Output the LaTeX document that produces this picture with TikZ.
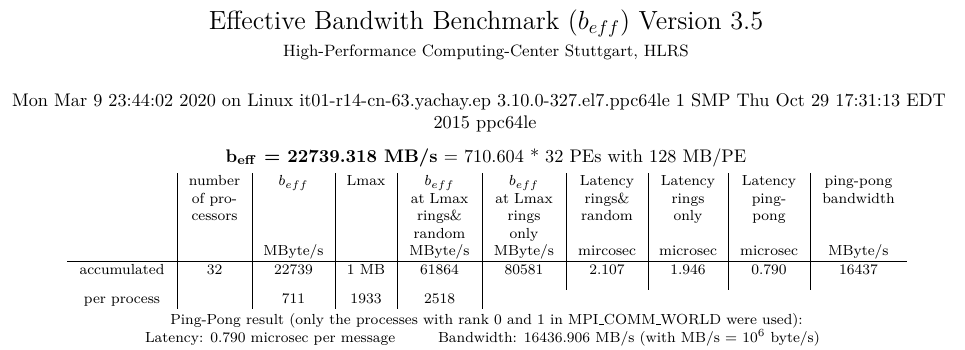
\documentclass[tikz,border=0pt]{standalone}
% underscore drawn as a short rule on the baseline
\newcommand\lowbar{\leavevmode\kern.06em\vbox{\hrule width.3em}}
\begin{document}
\begin{tikzpicture}[x=0.548pt,y=-0.548pt,
  txt/.style={inner sep=0pt,outer sep=0pt,anchor=base},
  cell/.style={txt,font=\footnotesize},
  rule/.style={line width=0.4pt,black}]
\useasboundingbox (0,0) rectangle (965,349);

% ---- heading ----
\node[txt,font=\Large] (title) at (486,29.3) {Effective Bandwith Benchmark ($b_{eff}$) Version 3.5};
\node[txt,font=\small] (inst) at (486,56) {High-Performance Computing-Center Stuttgart, HLRS};
\node[txt] (sys1) at (479,106.7) {Mon Mar 9 23:44:02 2020 on Linux it01-r14-cn-63.yachay.ep 3.10.0-327.el7.ppc64le 1 SMP Thu Oct 29 17:31:13 EDT};
\node[txt] (sys2) at (485,128.6) {2015 ppc64le};
\node[txt] (summary) at (486,162) {\textbf{b$_{\mathbf{eff}}$ = 22739.318 MB/s} = 710.604 * 32 PEs with 128 MB/PE};

% ---- table rules ----
\coordinate (hl) at (67,261.7);
\coordinate (hr) at (907,261.7);
\draw[rule] (hl) -- (hr);
\foreach \x in {177,252,335,397,482}
  \draw[rule] (\x,173) -- (\x,308.7);
\foreach \x in {566,648,728,810}
  \draw[rule] (\x,173) -- (\x,290);

% ---- table header ----
% column 1
\node[cell] (c1a) at (214.5,185.5) {number};
\node[cell] (c1b) at (214.5,203) {of pro-};
\node[cell] (c1c) at (214.5,220.5) {cessors};
% column 2
\node[cell] (c2a) at (293.5,185.5) {$b_{eff}$};
\node[cell] (c2e) at (293.5,255.5) {MByte/s};
% column 3
\node[cell] (c3a) at (366,185.5) {Lmax};
% column 4
\node[cell] (c4a) at (439.5,185.5) {$b_{eff}$};
\node[cell] (c4b) at (439.5,203) {at Lmax};
\node[cell] (c4c) at (439.5,220.5) {rings\&};
\node[cell] (c4d) at (439.5,238) {random};
\node[cell] (c4e) at (439.5,255.5) {MByte/s};
% column 5
\node[cell] (c5a) at (524,185.5) {$b_{eff}$};
\node[cell] (c5b) at (524,203) {at Lmax};
\node[cell] (c5c) at (524,220.5) {rings};
\node[cell] (c5d) at (524,238) {only};
\node[cell] (c5e) at (524,255.5) {MByte/s};
% column 6
\node[cell] (c6a) at (607,185.5) {Latency};
\node[cell] (c6b) at (607,203) {rings\&};
\node[cell] (c6c) at (607,220.5) {random};
\node[cell] (c6e) at (607,255.5) {mircosec};
% column 7
\node[cell] (c7a) at (688,185.5) {Latency};
\node[cell] (c7b) at (688,203) {rings};
\node[cell] (c7c) at (688,220.5) {only};
\node[cell] (c7e) at (688,255.5) {microsec};
% column 8
\node[cell] (c8a) at (769,185.5) {Latency};
\node[cell] (c8b) at (769,203) {ping-};
\node[cell] (c8c) at (769,220.5) {pong};
\node[cell] (c8e) at (769,255.5) {microsec};
% column 9
\node[cell] (c9a) at (858.5,185.5) {ping-pong};
\node[cell] (c9b) at (858.5,203) {bandwidth};
\node[cell] (c9e) at (858.5,255.5) {MByte/s};

% ---- table body ----
\node[cell] (acc) at (122,274.5) {accumulated};
\node[cell] (acc1) at (214.5,274.5) {32};
\node[cell] (acc2) at (293.5,274.5) {22739};
\node[cell] (acc3) at (366,274.5) {1 MB};
\node[cell] (acc4) at (439.5,274.5) {61864};
\node[cell] (acc5) at (524,274.5) {80581};
\node[cell] (acc6) at (607,274.5) {2.107};
\node[cell] (acc7) at (688,274.5) {1.946};
\node[cell] (acc8) at (769,274.5) {0.790};
\node[cell] (acc9) at (858.5,274.5) {16437};
\node[cell] (pp) at (122,303.5) {per process};
\node[cell] (pp2) at (293.5,303.5) {711};
\node[cell] (pp3) at (366,303.5) {1933};
\node[cell] (pp4) at (439.5,303.5) {2518};

% ---- ping-pong summary ----
\node[cell] (ppres) at (486.5,324.5) {Ping-Pong result (only the processes with rank 0 and 1 in MPI\lowbar COMM\lowbar WORLD were used):};
\node[cell,anchor=base west] (lat) at (145,342) {Latency: 0.790 microsec per message};
\node[cell,anchor=base west] (bw) at (438,342) {Bandwidth: 16436.906 MB/s (with MB/s = $10^6$ byte/s)};
\end{tikzpicture}
\end{document}
